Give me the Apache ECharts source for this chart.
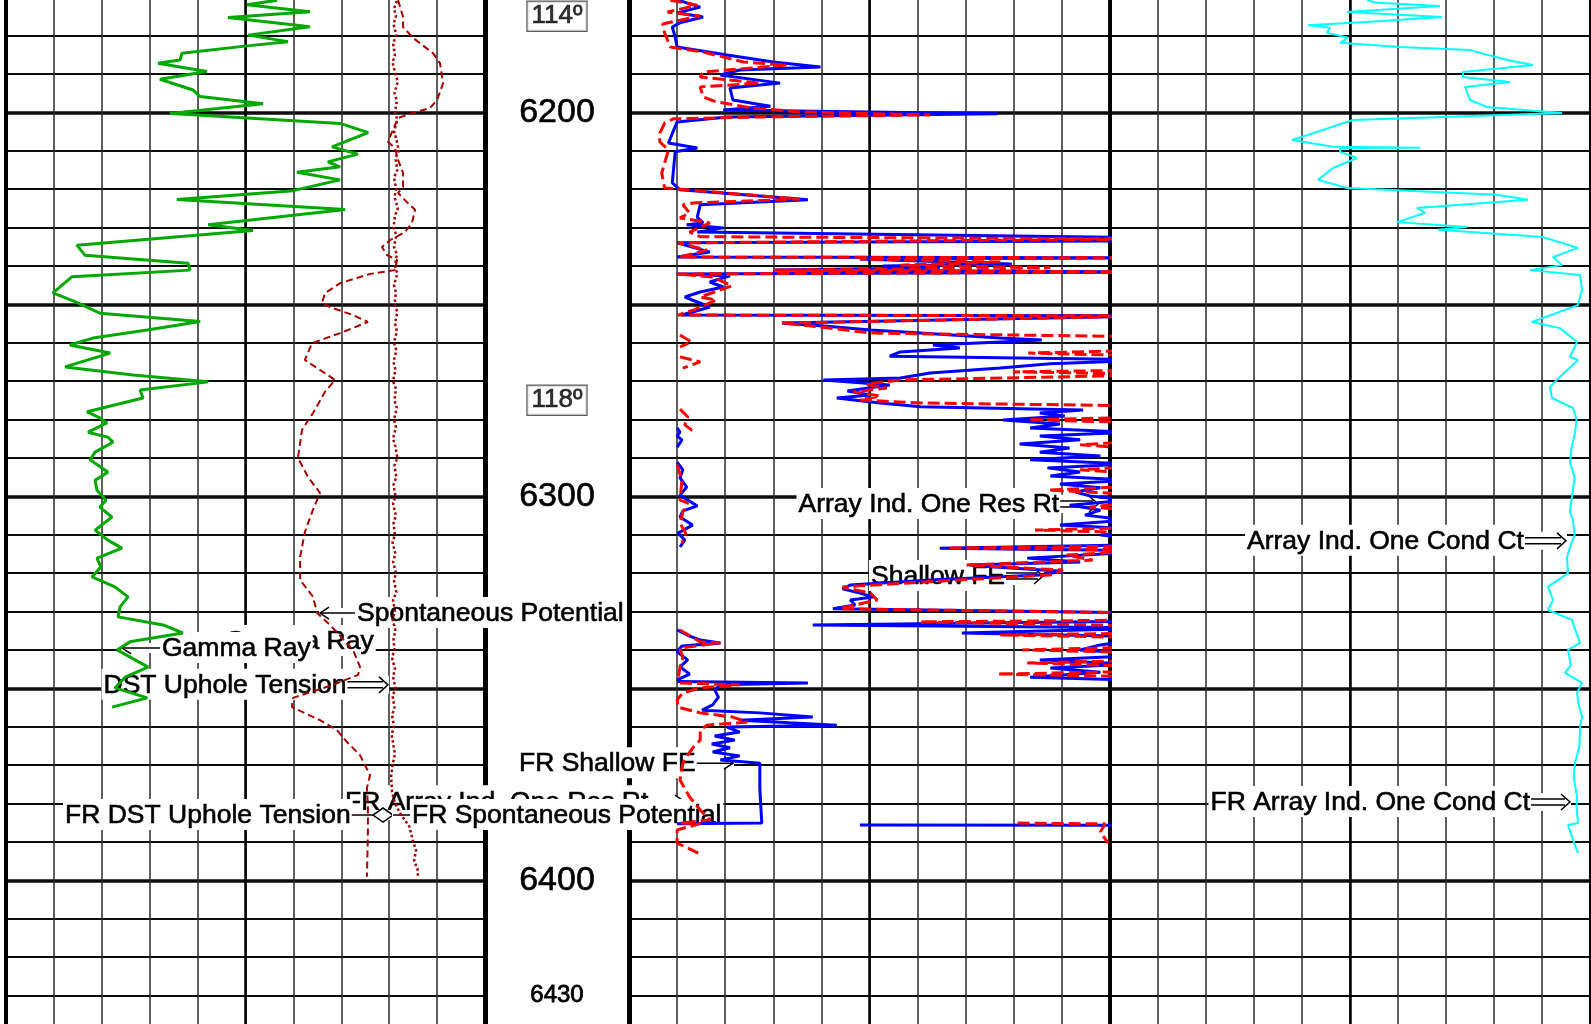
<!DOCTYPE html>
<html><head><meta charset="utf-8">
<script src="https://cdn.jsdelivr.net/npm/echarts@6.0.0/dist/echarts.min.js"></script>
<style>html,body{margin:0;padding:0;background:#fff;overflow:hidden}#c{width:1591px;height:1024px}</style>
</head><body><div id="c"></div>
<script>
// ---------------- DATA (depth ft, value) ----------------
const depthLabelsBig = [6200, 6300, 6400];
const depthLabelsSmall = [6430];
const tempDepth = [6175, 6275];
const tempLabel = ['114º', '118º'];

// Gamma Ray (API)
const gammaRay = [[6170.8,84.9],[6172.0,75.5],[6173.8,95.2],[6175.3,69.5],[6177.7,95.2],[6179.9,75.8],[6181.6,88.3],[6182.7,75.5],[6184.6,55.1],[6186.4,54.5],[6187.2,47.6],[6189.4,62.9],[6191.4,48.2],[6194.2,58.6],[6195.9,60.8],[6197.8,80.5],[6200.3,51.4],[6200.7,59.8],[6202.9,104.6],[6205.3,113.4],[6209.0,102.1],[6210.9,110.2],[6212.9,100.8],[6214.2,104.6],[6215.6,91.1],[6217.6,104.6],[6220.4,89.9],[6222.7,53.5],[6225.3,106.2],[6229.3,63.3],[6230.8,77.3],[6234.6,22.2],[6237.2,24.7],[6239.3,57.0],[6241.1,57.6],[6242.8,20.7],[6247.0,14.7],[6249.3,21.6],[6252.3,29.4],[6254.5,60.8],[6256.7,44.2],[6258.8,27.2],[6260.6,20.0],[6262.7,32.6],[6266.3,18.5],[6268.4,39.8],[6270.2,63.3],[6272.3,42.0],[6274.4,42.9],[6278.0,25.4],[6279.6,29.4],[6280.9,31.6],[6283.3,25.7],[6284.6,31.9],[6285.9,33.5],[6288.5,27.9],[6290.5,26.3],[6293.7,31.9],[6295.8,27.9],[6298.4,28.5],[6301.0,31.3],[6302.8,29.4],[6305.4,33.2],[6308.8,27.9],[6311.4,31.9],[6313.5,36.3],[6316.1,28.5],[6318.4,29.7],[6321.0,26.9],[6323.6,34.1],[6326.2,38.2],[6328.8,35.7],[6331.4,35.1],[6333.5,49.2],[6335.6,55.4],[6337.9,38.8],[6340.0,34.8],[6344.5,44.5],[6347.1,37.3],[6349.9,34.1],[6352.5,44.2],[6354.9,33.2]];

// Spontaneous Potential (mV)
const spontPot = [[6170.8,3.7],[6175.2,5.8],[6177.8,5.8],[6180.6,9.9],[6184.6,18.3],[6187.2,21.2],[6192.4,22.5],[6196.8,20.0],[6198.9,17.0],[6200.4,8.7],[6201.5,3.7],[6205.1,1.2],[6207.7,-0.5],[6209.3,2.4],[6212.4,3.7],[6215.8,5.8],[6219.4,5.8],[6221.0,3.7],[6223.4,7.4],[6225.4,10.8],[6228.8,9.5],[6231.2,6.6],[6233.3,0.3],[6235.1,-3.0],[6237.2,-0.9],[6238.5,3.3],[6241.1,2.4],[6242.1,-8.0],[6244.5,-20.5],[6247.1,-26.8],[6249.7,-28.1],[6251.0,-23.5],[6252.8,-15.1],[6254.6,-8.9],[6257.5,-20.5],[6260.1,-32.2],[6264.5,-35.2],[6266.6,-30.1],[6269.7,-22.6],[6272.8,-26.8],[6278.3,-31.8],[6282.7,-36.4],[6290.0,-38.1],[6295.0,-33.9],[6299.1,-28.9],[6304.1,-32.2],[6309.3,-35.2],[6315.8,-37.2],[6321.8,-37.2],[6326.2,-31.8],[6330.4,-30.1],[6333.5,-24.7],[6340.0,-15.1],[6344.4,-12.2],[6346.5,-13.0],[6349.1,-23.5],[6352.5,-40.2],[6354.9,-40.6],[6358.3,-28.9],[6360.9,-21.8],[6364.0,-17.6],[6367.4,-12.2],[6372.6,-8.0],[6376.0,-9.3],[6380.9,-8.9],[6387.7,-8.9],[6399.1,-9.3]];

// DST Uphole Tension
const upholeTension = [[6171,81.6],[6173,81.0],[6175,81.4],[6177,80.9],[6180,81.5],[6182,80.8],[6185,81.2],[6187,80.7],[6190,81.3],[6192,81.8],[6195,81.1],[6197,81.6],[6200,81.2],[6202,81.7],[6205,81.0],[6207,81.5],[6210,82.0],[6212,81.3],[6215,81.7],[6217,81.0],[6220,81.5],[6222,81.1],[6225,81.8],[6227,81.2],[6230,80.9],[6232,81.5],[6235,81.0],[6237,81.6],[6240,81.2],[6242,81.7],[6245,81.0],[6247,81.4],[6250,81.1],[6252,81.7],[6255,81.2],[6257,81.6],[6260,81.0],[6262,81.5],[6265,80.9],[6267,81.3],[6270,80.8],[6272,81.4],[6275,81.1],[6277,81.6],[6280,81.0],[6282,81.4],[6285,80.8],[6287,81.3],[6290,81.7],[6292,81.1],[6295,81.5],[6297,80.9],[6300,81.3],[6302,80.8],[6305,81.4],[6307,80.9],[6310,81.2],[6312,80.7],[6315,81.3],[6317,80.8],[6320,81.4],[6322,81.0],[6325,81.5],[6327,80.8],[6330,81.2],[6332,80.7],[6335,81.3],[6337,80.9],[6340,81.1],[6342,80.6],[6345,81.2],[6347,80.8],[6350,81.3],[6352,80.7],[6355,81.1],[6357,80.6],[6360,81.0],[6362,80.5],[6365,80.9],[6367,81.2],[6370,80.7],[6373,80.4],[6377,80.6],[6380,81.2],[6383,82.5],[6386,84.2],[6388,84.6],[6390,85.0],[6392,85.6],[6395,85.2],[6397,85.9],[6399,86.0]];

// Array Ind. One Res Rt (ohm.m), main scale; null = break
const resRt = [[6170.8,5.1],[6172.6,7.4],[6174.1,5.0],[6175.2,7.7],[6176.7,5.3],[6177.8,4.5],[6180.4,4.8],[6183.0,5.0],[6185.1,10.2],[6186.9,15.0],[6188.2,19.9],[6189.0,11.5],[6190.3,9.5],[6192.4,15.7],[6193.7,10.5],[6196.8,10.8],[6198.4,14.7],[6199.4,9.8],[6200.4,38.3],[6201.2,10.2],[6202.5,5.0],[6208.0,4.1],[6209.3,7.1],[6210.3,4.8],[6218.4,4.5],[6220.2,5.3],[6222.8,18.6],[6224.1,7.4],[6227.3,7.1],[6228.8,7.7],[6229.3,6.0],[6230.1,9.8],[6231.2,7.1],[6232.7,55],[6233.5,55],[6234.0,5.0],[6236.4,8.4],[6237.7,5.0],[6237.9,55],[6238.2,24.0],[6239.0,33.4],[6239.5,39.8],[6240.0,26.4],[6240.5,32.3],[6241.1,15.0],[6241.6,55],[6242.1,5.0],[6242.6,10.5],[6244.2,8.4],[6245.5,9.8],[6246.8,7.4],[6248.1,5.8],[6250.7,8.4],[6252.8,5.5],[6253.0,55],[6254.9,15.9],[6255.7,20.6],[6256.7,25.1],[6257.5,30.3],[6258.8,38.6],[6259.3,42.9],[6259.8,38.6],[6260.6,31.6],[6261.4,34.4],[6262.4,28.2],[6263.5,27.1],[6264.5,55],[6265.5,43.8],[6266.6,38.6],[6267.9,31.3],[6269.2,28.2],[6269.7,20.2],[6271.0,27.1],[6272.6,22.7],[6273.6,25.1],[6274.4,21.6],[6275.7,26.1],[6276.7,30.3],[6277.5,47.2],[6278.3,42.7],[6279.1,45.3],[6280.1,38.9],[6281.2,44.8],[6282.2,41.7],[6283.3,52],[6284.3,42.7],[6285.3,46.9],[6286.4,40.6],[6287.4,45.8],[6288.5,42.7],[6289.5,49.0],[6290.5,41.7],[6291.6,52],[6292.6,43.5],[6293.7,46.9],[6294.7,43.8],[6295.8,52],[6296.8,44.8],[6297.8,49.0],[6298.9,46.4],[6299.9,47.9],[6301.0,52],[6302.3,45.8],[6303.6,49.0],[6304.9,47.4],[6306.2,52],[6307.5,44.8],[6308.8,55],[6310.1,49.0],[6311.4,55],[6312.7,52],[6313.5,32.3],[6314.2,55],[6316.1,41.4],[6317.1,46.9],[6317.9,35.4],[6318.7,39.6],[6319.5,45.1],[6320.5,42.7],[6321.8,31.3],[6323.1,23.0],[6324.1,22.2],[6325.2,24.0],[6326.2,25.4],[6327.0,23.0],[6328.3,23.5],[6329.3,21.2],[6330.4,55],[6332.5,55],[6333.5,19.1],[6334.3,55],[6335.6,34.6],[6336.6,55],[6338.7,49.0],[6340.0,46.9],[6341.3,55],[6342.6,42.7],[6343.7,52],[6344.7,43.8],[6345.8,49.0],[6347.1,41.7],[6348.1,55],null,[6348.2,5.0],[6348.6,18.6],[6349.1,9.5],[6350.4,8.9],[6352.3,9.3],[6354.3,8.7],[6355.7,7.6],[6356.4,13.6],[6357.5,19.1],[6358.3,11.5],[6359.0,16.7],[6359.6,21.6],[6360.1,10.2],[6361.4,11.5],[6362.4,8.9],[6363.5,11.0],[6364.5,8.6],[6365.5,10.5],[6366.6,8.7],[6367.6,11.5],[6368.7,9.5],[6369.2,12.1],[6369.5,13.6],[6376.0,13.6],[6385.1,13.8],[6385.3,5.0],null,[6385.6,24.0],[6385.7,55]];

// Shallow FE (ohm.m), main scale
const shallowFE = [[6170.8,4.3],[6172.1,7.1],[6173.9,4.0],[6174.9,7.4],[6177.0,3.5],[6179.3,3.7],[6183.0,4.3],[6184.3,7.7],[6186.9,11.9],[6187.7,16.4],[6189.5,7.7],[6190.8,7.4],[6192.4,13.6],[6193.4,7.4],[6196.0,7.7],[6197.3,9.1],[6198.9,12.9],[6199.9,17.8],[6200.7,31.3],[6201.2,13.6],[6201.7,4.6],[6202.8,3.7],[6205.4,3.2],[6207.7,3.2],[6209.8,4.1],[6215.8,3.4],[6219.7,3.7],[6222.6,17.8],[6223.6,6.7],[6224.1,5.6],[6226.2,6.3],[6227.5,5.3],[6228.8,8.4],[6231.2,6.3],[6232.4,7.4],[6233.0,55],[6233.5,55],[6234.0,5.1],[6235.9,8.1],[6237.7,5.3],[6237.9,55],[6238.2,24.0],[6239.0,38.6],[6239.8,28.2],[6240.5,43.8],[6241.1,15.0],[6241.6,55],[6242.1,5.0],[6242.9,8.7],[6245.2,10.7],[6248.1,7.4],[6248.9,9.1],[6251.5,6.7],[6252.8,5.1],[6253.0,55],[6254.9,15.9],[6255.9,19.9],[6257.5,25.1],[6258.5,55],[6261.9,55],[6262.7,41.5],[6263.5,55],[6267.1,55],[6267.6,39.9],[6268.2,55],[6268.7,49.0],[6269.7,28.2],[6270.8,24.7],[6271.8,26.8],[6272.8,23.3],[6273.9,26.1],[6274.9,24.0],[6275.7,30.3],[6276.5,55],[6279.3,55],[6280.1,41.5],[6280.9,55],[6285.3,55],[6286.6,46.9],[6287.9,55],[6291.9,55],[6293.1,46.9],[6294.4,55],[6297.1,55],[6298.4,43.6],[6299.4,52],[6301.0,55],[6302.8,47.9],[6304.1,55],[6308.0,55],[6308.8,42.2],[6309.6,55],[6312.9,55],[6313.5,33.1],[6314.0,55],[6315.3,45.5],[6316.6,48.2],[6317.9,35.1],[6319.2,45.1],[6320.5,43.8],[6321.8,34.4],[6323.6,22.2],[6325.2,25.1],[6327.0,25.8],[6328.3,23.5],[6329.3,21.9],[6330.4,55],[6332.2,55],[6332.7,30.3],[6333.8,55],[6335.6,55],[6336.1,38.6],[6336.9,55],[6339.2,55],[6340.0,40.9],[6340.8,55],[6342.6,55],[6343.4,41.4],[6344.4,55],[6345.5,55],[6346.3,38.3],[6347.1,55],[6348.1,55],null,[6348.6,5.3],[6349.1,11.5],[6349.9,7.4],[6351.2,5.6],[6353.0,5.0],[6354.9,5.1],[6356.4,7.4],[6357.5,10.8],[6358.8,12.3],[6359.6,8.1],[6360.9,7.4],[6363.5,7.4],[6365.3,6.7],[6367.4,6.1],[6369.5,5.6],[6373.9,5.3],[6378.3,6.3],[6381.7,7.4],[6384.3,8.4],[6385.1,5.3],[6385.2,7.4],[6386.9,5.0],[6390.3,5.0],[6392.9,7.2],null,[6385.1,40.4],[6385.3,49.5],[6387.4,49.0],[6390.3,49.8]];

// Backup-scale (wrapped) traces, ohm.m on 0-500 scale
const resRtBackup = [[6282.2,50],[6283.3,53],[6284.3,50],[6285.3,55],[6287.2,50],null,[6291.1,50],[6293.1,56],[6295.2,53],[6297.6,60],[6299.7,53],[6302.5,71],[6303.8,56],[6305.4,53],[6307.5,66],[6309.6,51],[6311.4,58],[6313.2,53],null,[6334.8,50],[6336.4,63],[6337.4,74],[6338.2,95],[6339.0,55],[6340.5,50],[6342.6,61],[6344.4,53],[6346.3,63],[6347.8,50]];
const shallowFEBackup = [[6258.0,53],[6259.8,65],[6261.1,53],null,[6263.7,53],[6265.0,74],[6266.6,56],null,[6277.3,53],[6279.3,61],[6281.4,58],[6282.7,65],[6283.5,61],null,[6291.8,50],[6295.8,55],[6301.0,53],[6301.7,61],[6304.1,56],[6307.0,53],[6309.6,59],[6312.2,55],null,[6334.8,53],[6337.9,74],[6338.2,95],[6339.5,53],[6342.1,56],[6344.4,53],[6347.8,51]];

// Array Ind. One Cond Ct (mmho/m)
const condCt = [[6170.8,232.3],[6171.5,221.9],[6172.3,156.3],[6173.9,253.1],[6175.2,154.2],[6176.2,215.6],[6177.3,293.8],[6178.0,270.8],[6179.3,274.0],[6180.6,252.1],[6181.9,260.4],[6183.0,197.9],[6183.8,125.0],[6186.4,86.5],[6187.7,59.4],[6189.5,132.3],[6190.8,132.3],[6192.1,83.3],[6193.4,130.2],[6196.8,125.0],[6198.6,107.3],[6200.2,29.2],[6202.0,246.9],[6205.1,284.4],[6207.2,310.4],[6209.0,267.7],[6209.2,177.1],[6209.3,260.4],[6210.3,260.4],[6211.9,242.7],[6214.5,267.7],[6217.6,283.3],[6219.7,253.1],[6221.5,96.9],[6222.8,64.6],[6224.9,180.2],[6226.2,171.9],[6228.6,201.0],[6229.9,128.1],[6230.6,158.3],[6232.5,49.0],[6235.3,12.5],[6237.7,38.5],[6239.8,29.2],[6241.1,62.5],[6242.4,10.4],[6246.3,8.3],[6250.2,12.5],[6254.6,60.4],[6256.2,31.3],[6259.8,13.5],[6263.7,20.8],[6264.5,12.5],[6268.9,31.3],[6271.5,41.7],[6274.4,39.6],[6277.0,17.7],[6280.0,14.0],[6283.5,15.6],[6287.0,19.0],[6291.3,20.8],[6295.0,16.0],[6300.2,18.8],[6304.0,21.0],[6306.2,17.7],[6310.0,16.0],[6313.2,20.8],[6316.0,24.0],[6320.0,22.9],[6323.6,43.8],[6327.0,38.5],[6329.6,43.8],[6332.2,18.8],[6335.0,15.0],[6338.2,10.4],[6340.0,22.9],[6344.0,20.0],[6346.0,26.0],[6348.6,8.3],[6351.2,13.5],[6354.0,12.0],[6357.5,8.3],[6360.1,10.4],[6365.0,11.0],[6369.5,15.6],[6373.0,17.0],[6378.3,13.5],[6381.0,14.0],[6385.1,12.5],[6385.6,22.9],[6389.5,17.7],[6392.9,12.5]];

// Curve annotations (text, left x in px, depth)
const curveLabels = [
  {text:'Gamma Ray', x:225, depth:6337.7, arrow:null},
  {text:'Spontaneous Potential', x:357, depth:6330.4, arrow:{dir:'L', kind:1, tip:320}},
  {text:'Gamma Ray', x:162, depth:6339.5, arrow:{dir:'L', kind:1, tip:122}},
  {text:'DST Uphole Tension', x:103.5, depth:6349.1, arrow:{dir:'R', kind:2, tip:388}},
  {text:'FR Array Ind. One Res Rt', x:345, depth:6379.4, arrow:{dir:'R', kind:1, tip:684}},
  {text:'FR DST Uphole Tension', x:65, depth:6383.0, arrow:{dir:'R', kind:'D', tip:393}},
  {text:'FR Spontaneous Potential', x:412, depth:6383.0, arrow:{dir:'L', kind:0, tip:393}},
  {text:'FR Shallow FE', x:519, depth:6369.5, arrow:{dir:'R', kind:1, tip:733}},
  {text:'Array Ind. One Res Rt', x:798.5, depth:6302.0, arrow:{dir:'R', kind:2, tip:1098}},
  {text:'Shallow FE', x:871, depth:6320.75, arrow:{dir:'R', kind:2, tip:1043}},
  {text:'Array Ind. One Cond Ct', x:1247, depth:6311.6, arrow:{dir:'R', kind:2, tip:1566}},
  {text:'FR Array Ind. One Cond Ct', x:1210.5, depth:6379.6, arrow:{dir:'R', kind:2, tip:1570}}
];

// ---------------- CHART ----------------
const F = '"Liberation Sans", Arial, Helvetica, sans-serif';
const DMIN = 6150, DMAX = 6450;
const TOP = -79.7, H = 1152;
const chart = echarts.init(document.getElementById('c'), null, {renderer:'canvas'});

function grid(left, width){ return {left:left, width:width, top:TOP, height:H, containLabel:false, outerBoundsMode:'none', show:false}; }
const thin = {show:true, lineStyle:{color:'#2a2a2a', width:1.5}};
const midL = {show:true, lineStyle:{color:'#000', width:2.5}};
function xAx(g, min, max, interval, split, extra){
  return Object.assign({type:'value', gridIndex:g, min:min, max:max, interval:interval,
    axisLine:{show:false}, axisTick:{show:false}, axisLabel:{show:false}, splitLine:split}, extra||{});
}
function hx(g, min, max){ return {type:'value', gridIndex:g, min:min, max:max, show:false, splitLine:{show:false}}; }
function yAx(g, pos, interval, splitW, borderW){
  return {type:'value', gridIndex:g, inverse:true, min:DMIN, max:DMAX, interval:interval, position:pos,
    axisLine:{show:borderW>0, onZero:false, lineStyle:{color:'#000', width:borderW}},
    axisTick:{show:false}, axisLabel:{show:false},
    splitLine:{show:true, lineStyle:{color:'#0d0d0d', width:splitW}}};
}
function pts(arr){ return arr.map(p => p ? [p[1], p[0]] : [null, null]); }
function line(data, xi, yi, color, width, type, z){
  return {type:'line', data:pts(data), xAxisIndex:xi, yAxisIndex:yi, symbol:'none', showSymbol:false,
    connectNulls:false, clip:true, silent:true, z:z||2, animation:false,
    lineStyle:{color:color, width:width, type:type||'solid'}};
}

const option = {
  animation:false,
  backgroundColor:'#fff',
  grid:[grid(6,479), grid(629,481), grid(1110,480), grid(486,142)],
  xAxis:[
    xAx(0, 0, 150, 15, thin),            // 0 GR
    xAx(0, 0, 150, 75, midL),            // 1 track1 centre
    hx(0, -160, 40),                     // 2 SP
    hx(0, 0, 100),                       // 3 tension
    xAx(1, 0, 50, 5, thin),              // 4 resistivity
    xAx(1, 0, 50, 25, midL),             // 5 track2 centre
    hx(1, 0, 500),                       // 6 backup resistivity
    xAx(2, 0, 500, 50, thin, {inverse:true}),   // 7 conductivity
    xAx(2, 0, 500, 250, midL, {inverse:true}),  // 8 track3 centre
    hx(3, 0, 1)                          // 9 depth track
  ],
  yAxis:[
    yAx(0,'left',10,2,4), yAx(0,'right',50,3.5,5),
    yAx(1,'left',10,2,5), yAx(1,'right',50,3.5,3.5),
    yAx(2,'left',10,2,3.5), yAx(2,'right',50,3.5,2),
    {type:'value', gridIndex:3, inverse:true, min:DMIN, max:DMAX, interval:10, position:'left', offset:-71,
     axisLine:{show:false}, axisTick:{show:false}, splitLine:{show:false},
     axisLabel:{show:true, margin:0, align:'center', hideOverlap:false,
       formatter:function(v){
         if (depthLabelsBig.indexOf(v) >= 0) return '{b|' + v + '}';
         if (depthLabelsSmall.indexOf(v) >= 0) return '{s|' + v + '}';
         return '';
       },
       rich:{b:{fontSize:34, fontFamily:F, color:'#000', textBorderColor:'#000', textBorderWidth:0.6},
             s:{fontSize:24, fontFamily:F, color:'#000', textBorderColor:'#000', textBorderWidth:0.8}}}}
  ],
  series:[
    line(spontPot, 2, 0, '#a80000', 2, [7,4], 2),
    line(upholeTension, 3, 0, '#a00000', 2.5, [2.5,2.5], 2),
    line(gammaRay, 0, 0, '#00a800', 3, 'solid', 3),
    line(resRt, 4, 2, '#0000ff', 3, 'solid', 2),
    line(resRtBackup, 6, 2, '#0000ff', 3, 'solid', 2),
    line(shallowFE, 4, 2, '#ff0000', 3, [12,5], 3),
    line(shallowFEBackup, 6, 2, '#ff0000', 3, [12,5], 3),
    line(condCt, 7, 4, '#00ffff', 2, 'solid', 2),
    {type:'scatter', xAxisIndex:9, yAxisIndex:6, symbolSize:1, silent:true,
     itemStyle:{color:'rgba(0,0,0,0)'},
     data: tempDepth.map(d => [0.5, d]),
     label:{show:true, position:'inside', formatter:p => tempLabel[p.dataIndex],
       fontSize:26, fontFamily:F, color:'#000', textBorderColor:'#000', textBorderWidth:0.7,
       backgroundColor:'#fff', borderColor:'#333', borderWidth:1.2, padding:[2,4,1,4]}}
  ]
};
chart.setOption(option);

// ---------------- curve labels ----------------
const cv = document.createElement('canvas').getContext('2d');
const LFONT = '26.5px ' + F;
cv.font = LFONT;
const els = [];
curveLabels.forEach((L, i) => {
  const y = chart.convertToPixel({yAxisIndex:0}, L.depth);
  const w = cv.measureText(L.text).width;
  const b = i * 10;
  els.push({type:'rect', z:1, z2:b, silent:true, shape:{x:L.x - 2, y:y - 16, width:w + 4, height:31}, style:{fill:'#fff'}});
  els.push({type:'text', z:1, z2:b + 1, silent:true, x:L.x, y:y + 1,
    style:{text:L.text, font:LFONT, fill:'#000', stroke:'#000', lineWidth:0.6, align:'left', verticalAlign:'middle'}});
  const a = L.arrow;
  if (!a) return;
  const st = {stroke:'#000', lineWidth:1.5, fill:null};
  const t = a.tip;
  if (a.dir === 'R') {
    const x1 = L.x + w + 1;
    const hh = a.kind === 2 ? 9 : 5;
    els.push({type:'rect', z:1, z2:b, silent:true, shape:{x:x1, y:y - hh, width:t - x1 + 1, height:hh * 2}, style:{fill:'#fff'}});
    if (a.kind === 2) {
      els.push({type:'line', z:1, z2:b + 2, silent:true, shape:{x1:x1, y1:y - 3, x2:t - 5, y2:y - 3}, style:st});
      els.push({type:'line', z:1, z2:b + 2, silent:true, shape:{x1:x1, y1:y + 3, x2:t - 5, y2:y + 3}, style:st});
      els.push({type:'polyline', z:1, z2:b + 2, silent:true, shape:{points:[[t - 9, y - 8], [t, y], [t - 9, y + 8]]}, style:st});
    } else if (a.kind === 'D') {
      els.push({type:'line', z:1, z2:b + 2, silent:true, shape:{x1:x1, y1:y, x2:t - 20, y2:y}, style:st});
      els.push({type:'polygon', z:1, z2:b + 2, silent:true, shape:{points:[[t - 20, y], [t - 10, y - 7], [t, y], [t - 10, y + 7]]}, style:{stroke:'#000', lineWidth:1.5, fill:'#fff'}});
    } else {
      els.push({type:'line', z:1, z2:b + 2, silent:true, shape:{x1:x1, y1:y, x2:t, y2:y}, style:st});
      els.push({type:'polyline', z:1, z2:b + 2, silent:true, shape:{points:[[t - 9, y - 6], [t, y], [t - 9, y + 6]]}, style:st});
    }
  } else {
    const x1 = L.x - 2;
    els.push({type:'rect', z:1, z2:b, silent:true, shape:{x:t - 1, y:y - 5, width:x1 - t + 1, height:10}, style:{fill:'#fff'}});
    els.push({type:'line', z:1, z2:b + 2, silent:true, shape:{x1:x1, y1:y, x2:t, y2:y}, style:st});
    if (a.kind === 1) {
      els.push({type:'polyline', z:1, z2:b + 2, silent:true, shape:{points:[[t + 9, y - 6], [t, y], [t + 9, y + 6]]}, style:st});
    }
  }
});
chart.setOption({graphic:{elements:els}});
</script>
</body></html>
